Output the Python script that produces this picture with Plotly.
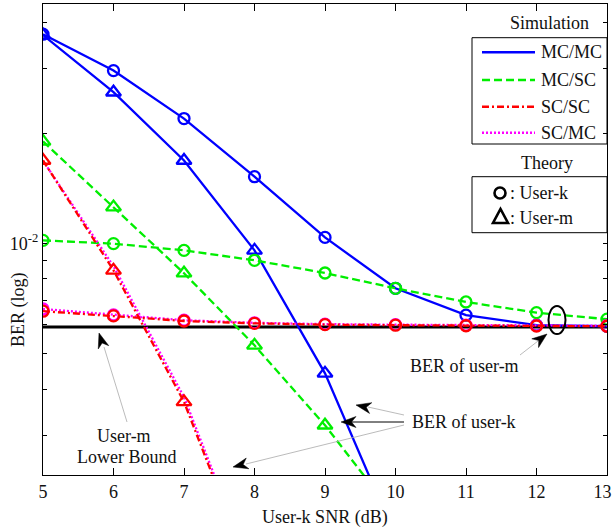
import plotly.graph_objects as go

# ---------------- data ----------------
snr = [5, 6, 7, 8, 9, 10, 11, 12, 13]

mcmc_k = [0.0372, 0.0296, 0.0219, 0.0152, 0.01038, 0.00754, 0.00637, 0.00598, 0.00594]
mcmc_m = [0.0370, 0.02584, 0.01683, 0.00957, 0.00442, 0.00158]
mcsc_k = [0.01019, 0.00998, 0.00957, 0.00899, 0.00830, 0.00754, 0.00692, 0.00647, 0.00621]
mcsc_m = [0.01897, 0.01256, 0.00829, 0.00527, 0.00319, 0.00180]
scsc_k = [0.00653, 0.00634, 0.00614, 0.00605, 0.00600, 0.00598, 0.00596, 0.00595, 0.00594]
scsc_m = [0.01683, 0.00844, 0.003695, 0.00118]
scmc_k = [0.00662, 0.00638, 0.00617, 0.00607, 0.00602, 0.00600, 0.00598, 0.00597, 0.00596]
scmc_m = [0.0168, 0.00866, 0.003806, 0.001215]
lower_bound = [0.00591] * 9

x_ticks = [5, 6, 7, 8, 9, 10, 11, 12, 13]
x_ticktext = ["5", "6", "7", "8", "9", "10", "11", "12", "13&nbsp;&nbsp;"]
y_major = [0.01]
y_major_text = ["10<sup>-2</sup>"]
y_minor = [0.003, 0.004, 0.005, 0.006, 0.007, 0.008, 0.009, 0.02, 0.03, 0.04]

# ---------------- styles ----------------
FONT = "Liberation Serif, Times New Roman, serif"
FS = 18
BLUE, GREEN, RED, MAG = "#0000ff", "#00ee00", "#ff0000", "#ff00ff"
LW = 2.3
DASH_G = "8px,4px"
DASH_R = "7px,3px,2px,3px"
DASH_M = "2px,2px"

W, H = 613, 529
L, R, T, B = 43, 607, 4, 475


def px(x):
    return (x - L) / (R - L)


def py(y):
    return (B - y) / (B - T)


fig = go.Figure()


def add(xs, ys, color, dash, symbol, size=11, show_markers=True):
    n = len(ys)
    fig.add_trace(go.Scatter(
        x=xs[:n], y=ys, mode="lines+markers" if show_markers else "lines",
        line=dict(color=color, width=LW, dash=dash),
        marker=dict(symbol=symbol, size=size, color=color,
                    line=dict(color=color, width=2.3)),
        showlegend=False, cliponaxis=True))


# lower bound
fig.add_trace(go.Scatter(x=snr, y=lower_bound, mode="lines",
                         line=dict(color="black", width=3), showlegend=False))

add(snr, mcmc_k, BLUE, "solid", "circle-open")
add(snr, mcmc_m, BLUE, "solid", "triangle-up-open", size=13)
add(snr, mcsc_k, GREEN, DASH_G, "circle-open")
add(snr, mcsc_m, GREEN, DASH_G, "triangle-up-open", size=13)
add(snr, scmc_k, MAG, DASH_M, "circle-open")
add(snr, scmc_m, MAG, DASH_M, "triangle-up-open", show_markers=False)
add(snr, scsc_k, RED, DASH_R, "circle-open")
add(snr, scsc_m, RED, DASH_R, "triangle-up-open", size=13)

shapes = []
annotations = []


def text(x, y, s, xanchor="center", size=FS, angle=0):
    annotations.append(dict(x=px(x), y=py(y), xref="paper", yref="paper",
                            text=s, showarrow=False, xanchor=xanchor, yanchor="middle",
                            textangle=angle,
                            font=dict(family=FONT, size=size, color="#111")))


def seg(x0, y0, x1, y1, color, width=1, dash="solid"):
    shapes.append(dict(type="line", xref="paper", yref="paper",
                       x0=px(x0), y0=py(y0), x1=px(x1), y1=py(y1),
                       line=dict(color=color, width=width, dash=dash)))


def head(tx, ty, fx, fy, length=15, half=5.5, notch=4.5):
    # filled black arrow head (MATLAB vback style) at tip (tx,ty), line coming from (fx,fy)
    dx, dy = fx - tx, fy - ty
    d = (dx * dx + dy * dy) ** 0.5
    ux, uy = dx / d, dy / d
    nx, ny = -uy, ux
    bx, by = tx + ux * length, ty + uy * length
    p1 = (bx + nx * half, by + ny * half)
    p2 = (tx + ux * (length - notch), ty + uy * (length - notch))
    p3 = (bx - nx * half, by - ny * half)
    path = "M {} {} L {} {} L {} {} L {} {} Z".format(
        px(tx), py(ty), px(p1[0]), py(p1[1]), px(p2[0]), py(p2[1]), px(p3[0]), py(p3[1]))
    shapes.append(dict(type="path", xref="paper", yref="paper", path=path,
                       fillcolor="black", line=dict(color="black", width=0.5)))


# axis titles
text(325, 517, "User-k SNR (dB)")
text(18, 310, "BER (log)", angle=-90)

# legend: simulation
text(549, 23, "Simulation")
shapes.append(dict(type="rect", xref="paper", yref="paper", x0=px(472), x1=px(607),
                   y0=py(37.7), y1=py(144), line=dict(color="black", width=1)))
leg = [("MC/MC", BLUE, "solid", 52.3), ("MC/SC", GREEN, DASH_G, 80),
       ("SC/SC", RED, DASH_R, 106.7), ("SC/MC", MAG, DASH_M, 132.7)]
for name, col, dash, yy in leg:
    seg(482, yy, 535, yy, col, width=2.5, dash=dash)
    text(539, yy, name, xanchor="left")

# legend: theory
text(547, 163, "Theory")
shapes.append(dict(type="rect", xref="paper", yref="paper", x0=px(472), x1=px(607),
                   y0=py(176.7), y1=py(232.7), line=dict(color="black", width=1)))
shapes.append(dict(type="circle", xref="paper", yref="paper",
                   x0=px(494.5), x1=px(505.5), y0=py(187.5), y1=py(198.5),
                   line=dict(color="black", width=2.6)))
tri = "M {} {} L {} {} L {} {} Z".format(px(493), py(223), px(508), py(223), px(500.5), py(209))
shapes.append(dict(type="path", xref="paper", yref="paper", path=tri,
                   line=dict(color="black", width=2.6)))
text(508, 193, ": User-k", xanchor="left")
text(508, 218, ": User-m", xanchor="left")

# lower bound annotation
seg(127, 422, 104, 347, "#aaaaaa", 0.8)
head(99, 333, 127, 422)
text(124, 436, "User-m")
text(126, 457, "Lower Bound")

# BER of user-m
shapes.append(dict(type="circle", xref="paper", yref="paper",
                   x0=px(548.5), x1=px(565.5), y0=py(306), y1=py(334),
                   line=dict(color="black", width=2)))
seg(520, 355, 538, 341, "#aaaaaa", 0.8)
head(547, 334, 520, 355)
text(464, 366, "BER of user-m")

# BER of user-k
seg(404, 415, 368, 407, "#aaaaaa", 0.8)
head(356, 405, 404, 415)
seg(404, 422, 350, 422, "black", 1)
head(341, 422, 404, 422)
seg(404, 425, 246, 464, "#aaaaaa", 0.8)
head(233, 467, 404, 425)
text(464, 422, "BER of user-k")

axis_common = dict(showline=True, linecolor="black", linewidth=1.2, mirror="ticks",
                   ticks="inside", showgrid=False, zeroline=False, automargin=False,
                   tickfont=dict(family=FONT, size=FS, color="#111"), tickcolor="black")

fig.update_layout(
    width=W, height=H, autosize=False, plot_bgcolor="white", paper_bgcolor="white",
    margin=dict(l=L, r=W - R, t=T, b=H - B),
    xaxis=dict(range=[5, 13], tickvals=x_ticks, ticktext=x_ticktext, ticklen=7,
               ticklabeloverflow="allow", **axis_common),
    yaxis=dict(type="log", range=[-2.632, -1.347], tickvals=y_major, ticktext=y_major_text,
               ticklen=4,
               minor=dict(tickvals=y_minor, ticks="inside", ticklen=4, tickcolor="black",
                          showgrid=False),
               **axis_common),
    shapes=shapes, annotations=annotations,
)

fig.write_html("out.html", config={"displayModeBar": False},
               post_script="document.body.style.margin='0px';")
